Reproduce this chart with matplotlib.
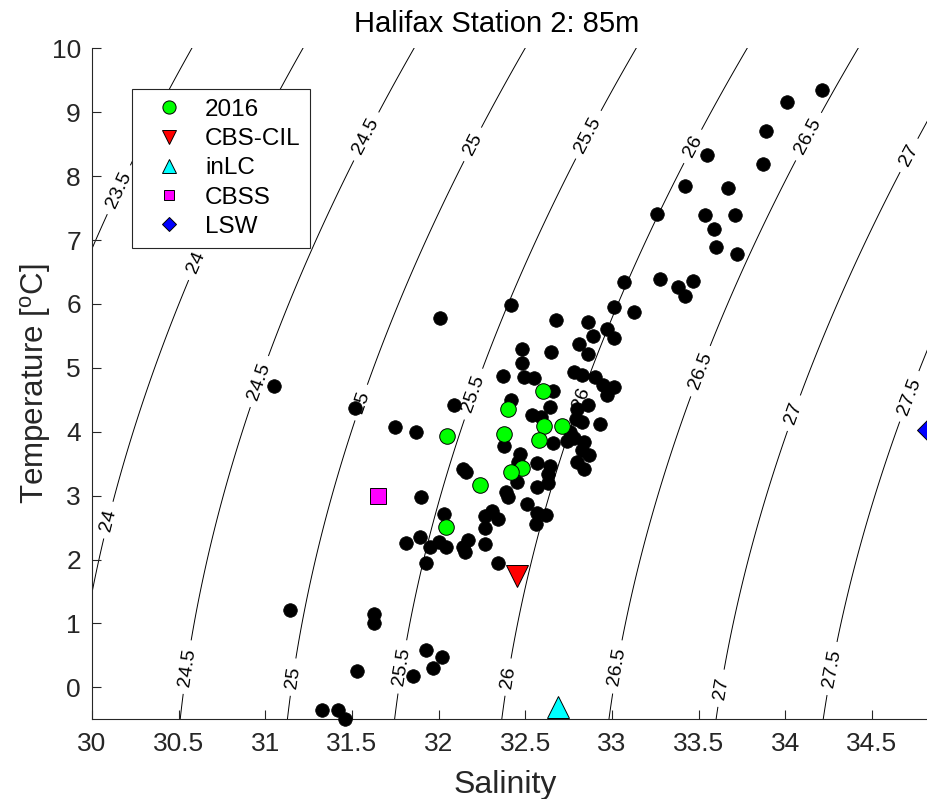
import numpy as np
import matplotlib
matplotlib.use("Agg")
import matplotlib.pyplot as plt
from matplotlib.lines import Line2D

plt.rcParams['font.family'] = ['Liberation Sans', 'DejaVu Sans']
plt.rcParams['mathtext.default'] = 'regular'

# ---------------- data ----------------
hist_S = [34.21, 34.01, 33.89, 33.87, 33.55, 33.42, 33.67, 33.26, 33.54, 33.71,
          33.59, 33.60, 33.72, 33.07, 33.28, 33.38, 33.47, 33.42, 33.01, 33.13,
          32.97, 32.42, 32.68, 32.86, 33.01, 32.89, 32.81, 32.86, 32.65, 32.48,
          32.48, 32.37, 32.49, 32.55, 32.78, 32.83, 32.90, 32.95, 33.01, 32.97,
          32.66, 32.42, 32.09, 32.64, 32.80, 32.86, 32.54, 32.59, 32.79, 32.83,
          32.93, 32.76, 32.78, 32.74, 32.66, 32.84, 32.83, 32.87, 32.80, 32.84,
          32.38, 32.47, 32.46, 32.57, 32.64, 32.63, 32.45, 32.57, 32.63, 32.39,
          32.40, 32.51, 32.57, 32.62, 32.56, 32.27, 32.31, 32.34, 32.27, 32.27,
          32.34, 32.14, 32.16, 32.01, 31.05, 31.52, 31.75, 31.87, 31.90, 32.03,
          31.89, 31.81, 31.95, 32.00, 32.04, 31.93, 32.14, 32.15, 32.17, 31.14,
          31.63, 31.63, 31.93, 32.02, 31.97, 31.85, 31.53, 31.33, 31.42, 31.46]
hist_T = [9.35, 9.16, 8.71, 8.19, 8.33, 7.85, 7.81, 7.41, 7.39, 7.39,
          7.17, 6.89, 6.78, 6.34, 6.39, 6.26, 6.36, 6.12, 5.95, 5.87,
          5.61, 5.98, 5.75, 5.72, 5.47, 5.50, 5.37, 5.22, 5.25, 5.29,
          5.08, 4.87, 4.86, 4.84, 4.93, 4.89, 4.86, 4.73, 4.70, 4.57,
          4.64, 4.50, 4.42, 4.39, 4.36, 4.42, 4.26, 4.23, 4.20, 4.15,
          4.12, 4.00, 3.90, 3.85, 3.82, 3.84, 3.71, 3.64, 3.53, 3.42,
          3.78, 3.65, 3.53, 3.51, 3.46, 3.34, 3.21, 3.13, 3.20, 3.06,
          2.98, 2.87, 2.73, 2.70, 2.56, 2.68, 2.76, 2.63, 2.49, 2.24,
          1.95, 3.42, 3.37, 5.78, 4.72, 4.37, 4.07, 4.00, 2.98, 2.71,
          2.36, 2.26, 2.20, 2.27, 2.20, 1.95, 2.20, 2.12, 2.31, 1.21,
          1.15, 1.01, 0.58, 0.47, 0.30, 0.18, 0.26, -0.36, -0.36, -0.49]

y2016_S = [32.60, 32.40, 32.05, 32.38, 32.61, 32.71, 32.58, 32.48, 32.42, 32.24, 32.04]
y2016_T = [4.64, 4.36, 3.93, 3.96, 4.09, 4.09, 3.87, 3.43, 3.37, 3.17, 2.51]

water_names = ['CBS-CIL', 'inLC', 'CBSS', 'LSW']
water_S = [32.45, 32.69, 31.65, 34.83]
water_T = [1.74, -0.30, 3.00, 4.02]

density_levels = [23.5, 24.0, 24.5, 25.0, 25.5, 26.0, 26.5, 27.0, 27.5, 28.0]
label_pos = [(30.16, 7.78), (30.64, 6.60), (31.59, 8.61), (32.18, 8.52), (32.87, 8.64),
             (33.47, 8.46), (34.14, 8.61), (34.71, 8.33),
             (30.09, 2.62), (30.94, 4.81), (31.56, 4.45), (32.21, 4.58), (32.82, 4.53),
             (33.49, 4.97), (34.05, 4.29), (34.72, 4.55),
             (30.59, 0.30), (31.16, 0.16), (31.79, 0.32), (32.40, 0.16), (33.03, 0.32),
             (33.62, -0.01), (34.26, 0.30)]

xticks = [30, 30.5, 31, 31.5, 32, 32.5, 33, 33.5, 34, 34.5]
yticks = [0, 1, 2, 3, 4, 5, 6, 7, 8, 9, 10]


def sigma0(S, T):
    # UNESCO 1983 (EOS-80) density at surface pressure, minus 1000
    rw = (999.842594 + 6.793952e-2 * T - 9.095290e-3 * T**2 + 1.001685e-4 * T**3
          - 1.120083e-6 * T**4 + 6.536332e-9 * T**5)
    A = 8.24493e-1 - 4.0899e-3 * T + 7.6438e-5 * T**2 - 8.2467e-7 * T**3 + 5.3875e-9 * T**4
    B = -5.72466e-3 + 1.0227e-4 * T - 1.6546e-6 * T**2
    C = 4.8314e-4
    return rw + A * S + B * S**1.5 + C * S**2 - 1000.0


W, H = 928, 799
fig = plt.figure(figsize=(W / 100, H / 100), dpi=100)
ax = fig.add_axes([92 / W, (H - 719.3) / H, 866.5 / W, 671 / H])
ax.set_xlim(30, 35)
ax.set_ylim(-0.5, 10)

Sg, Tg = np.meshgrid(np.linspace(29.5, 35.5, 400), np.linspace(-1.5, 11, 400))
cs = ax.contour(Sg, Tg, sigma0(Sg, Tg), levels=density_levels, colors='k',
                linewidths=0.7, zorder=1)
ax.clabel(cs, manual=label_pos, inline=True, inline_spacing=8, fontsize=14,
          fmt=lambda v: f'{v:g}')

ax.plot(hist_S, hist_T, 'o', color='k', ms=9.8, mec='k', mew=0.5, clip_on=False, zorder=3)
ax.plot(y2016_S, y2016_T, 'o', color=(0, 1, 0), ms=11.2, mec='k', mew=0.7, clip_on=False, zorder=4)

styles = [('v', (1, 0, 0), 16.5), ('^', (0, 1, 1), 16.5), ('s', (1, 0, 1), 12), ('D', (0, 0, 1), 12.2)]
for (m, c, ms), s, t in zip(styles, water_S, water_T):
    ax.plot([s], [t], m, color=c, ms=ms, mec='k', mew=0.7, clip_on=False, zorder=5)

# axes styling (MATLAB-like: box off, ticks inside)
for side in ('top', 'right'):
    ax.spines[side].set_visible(False)
for side in ('left', 'bottom'):
    ax.spines[side].set_color('0.15')
    ax.spines[side].set_linewidth(0.8)
ax.set_xticks(xticks)
ax.set_xticklabels([f'{v:g}' for v in xticks])
ax.set_yticks(yticks)
ax.tick_params(direction='in', length=6.5, width=0.8, color='0.15', labelcolor='0.15',
               labelsize=19)
ax.tick_params(axis='x', pad=9)
ax.tick_params(axis='y', pad=8)

ax.set_xlabel('Salinity', fontsize=23, color='0.15')
ax.xaxis.set_label_coords((505 - 92) / 866.5, -0.075)
ax.set_ylabel('Temperature [$^{o}$C]', fontsize=22.5, color='0.15')
ax.yaxis.set_label_coords(-0.045, 0.5)

fig.text(497 / W, 1 - 24 / H, 'Halifax Station 2: 85m', ha='center', va='center',
         fontsize=21, color='k')

handles = [Line2D([], [], ls='none', marker='o', color=(0, 1, 0), mec='k', mew=0.7, ms=9.5)]
for (m, c, ms) in styles:
    sz = {'v': 10, '^': 10, 's': 6.5, 'D': 7.2}[m]
    handles.append(Line2D([], [], ls='none', marker=m, color=c, mec='k', mew=0.7, ms=sz))
labels = ['2016'] + water_names
leg = ax.legend(handles, labels, loc='upper left',
                bbox_to_anchor=((132 - 92) / 866.5, (719.3 - 89) / 671),
                borderaxespad=0, fontsize=17.5, frameon=True, fancybox=False,
                framealpha=1, edgecolor='0.15', borderpad=0.4, handlelength=2.25,
                handletextpad=0.35, labelspacing=0.3)
leg.get_frame().set_linewidth(0.8)

fig.savefig('out.png', dpi=100)
